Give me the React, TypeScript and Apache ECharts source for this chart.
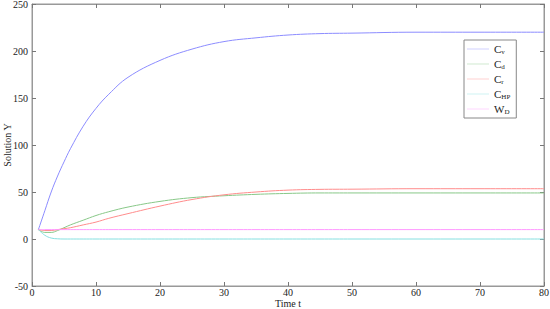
import React, { useEffect, useRef } from "react";
import * as echarts from "echarts";

const times = [1, 2, 3, 4, 5, 6, 8, 10, 12, 15, 20, 25, 30, 35, 40, 45, 50, 60, 70, 80];
const cv = [10, 30, 50, 67, 82, 96, 120, 139, 154, 172, 190, 202, 210, 214, 217, 218.5, 219, 220, 220, 220];
const cd = [10, 7, 7, 9, 12, 15, 20, 25, 29, 34, 40, 44, 46, 47.5, 48.5, 49, 49, 49, 49, 49];
const cr = [10, 9, 9, 10, 11, 12, 15, 18, 22, 27, 35, 42, 47, 50, 52, 52.8, 53, 53.5, 53.5, 53.5];
const chp = [10, 4, 1, 0.2, 0, 0, 0, 0, 0, 0, 0, 0, 0, 0, 0, 0, 0, 0, 0, 0];
const wd = [10, 10, 10, 10, 10, 10, 10, 10, 10, 10, 10, 10, 10, 10, 10, 10, 10, 10, 10, 10];

const seriesNames = ["Cv", "Cd", "Cr", "CHP", "WD"];
const seriesMain = ["C", "C", "C", "C", "W"];
const seriesSub = ["v", "d", "r", "HP", "D"];
const seriesData = [cv, cd, cr, chp, wd];
const colors = ["#8c8cff", "#88c888", "#ff8c8c", "#86e0e0", "#ff99ff"];

const FONT = "Liberation Serif";

export default function App() {
  const ref = useRef<HTMLDivElement>(null);
  useEffect(() => {
    const chart = echarts.init(ref.current!, null, { renderer: "svg" });
    const axisLine = { show: true, onZero: false, lineStyle: { color: "#999", width: 1 } };
    const tickStyle = { show: true, inside: true, length: 4, lineStyle: { color: "#777" } };
    chart.setOption({
      animation: false,
      backgroundColor: "#fff",
      textStyle: { fontFamily: FONT },
      grid: {
        left: 32, right: 6, top: 4, bottom: 23,
        containLabel: false, outerBoundsMode: "none",
        show: true, borderColor: "#999", borderWidth: 1,
      },
      xAxis: [
        {
          type: "value", min: 0, max: 80, interval: 10,
          name: "Time t", nameLocation: "middle", nameGap: 12, nameMoveOverlap: false,
          nameTextStyle: { fontFamily: FONT, fontSize: 10, color: "#222" },
          axisLine, axisTick: tickStyle, splitLine: { show: false },
          axisLabel: { fontFamily: FONT, fontSize: 10, color: "#222", margin: 1 },
        },
        {
          type: "value", min: 0, max: 80, interval: 10, position: "top",
          axisLine, axisTick: tickStyle, splitLine: { show: false }, axisLabel: { show: false },
        },
      ],
      yAxis: [
        {
          type: "value", min: -50, max: 250, interval: 50,
          name: "Solution Y", nameLocation: "middle", nameGap: 20, nameMoveOverlap: false,
          nameTextStyle: { fontFamily: FONT, fontSize: 10, color: "#222" },
          axisLine, axisTick: tickStyle, splitLine: { show: false },
          axisLabel: { fontFamily: FONT, fontSize: 10, color: "#222", margin: 4 },
        },
        {
          type: "value", min: -50, max: 250, interval: 50, position: "right",
          axisLine, axisTick: tickStyle, splitLine: { show: false }, axisLabel: { show: false },
        },
      ],
      legend: {
        orient: "vertical",
        left: 464, top: 40,
        backgroundColor: "#fff",
        borderColor: "#888", borderWidth: 1, borderRadius: 0,
        padding: [3, 6, 3, 3],
        itemGap: 3,
        itemWidth: 22, itemHeight: 12,
        data: seriesNames.map((n) => ({ name: n, icon: "path://M0,6 L22,6 L22,6.4 L0,6.4 Z" })),
        formatter: (name: string) => {
          const i = seriesNames.indexOf(name);
          return `{m|${seriesMain[i]}}{s|${seriesSub[i]}}`;
        },
        textStyle: {
          fontFamily: FONT,
          rich: {
            m: { fontFamily: FONT, fontSize: 11, color: "#222", lineHeight: 12, verticalAlign: "top" },
            s: { fontFamily: FONT, fontSize: 7, color: "#222", verticalAlign: "bottom", lineHeight: 12, padding: [4, 0, 0, 0] },
          },
        },
      },
      series: seriesData.map((d, i) => ({
        name: seriesNames[i],
        type: "line",
        data: times.map((t, k) => [t, d[k]]),
        smooth: 0.4,
        showSymbol: false,
        symbol: "none",
        lineStyle: { color: colors[i], width: 1 },
        itemStyle: { color: colors[i] },
      })),
    });
    return () => chart.dispose();
  }, []);
  return <div ref={ref} style={{ width: 550, height: 309, position: "absolute", left: 0, top: 0 }} />;
}
